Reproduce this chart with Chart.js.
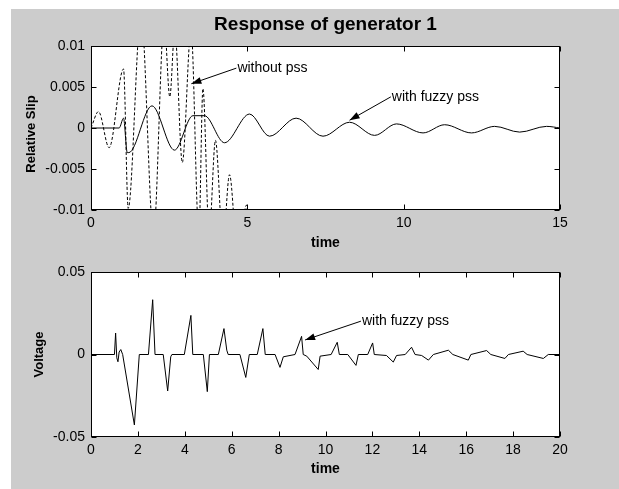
<!DOCTYPE html>
<html>
<head>
<meta charset="utf-8">
<title>Response of generator 1</title>
<script src="https://cdn.jsdelivr.net/npm/chart.js@4.4.1/dist/chart.umd.min.js"></script>
<style>
    body { margin: 0; background: #fff; }
    #figure { position: absolute; left: 11px; top: 9px; width: 608px; height: 480px; background: #cccccc; }
    canvas { position: absolute; left: 0; }
    #slipChart { top: 0; }
    #voltChart { top: 245px; }
</style>
</head>
<body>
<div id="figure"></div>
<canvas id="slipChart" width="619" height="262"></canvas>
<canvas id="voltChart" width="619" height="244"></canvas>
<script>
// relative slip, with fuzzy pss
const slipTime = [0, 0.9, 1.04, 1.16, 1.21, 1.95, 2.67, 3.26, 3.63, 4.27, 5.07, 5.71, 6.56, 7.42,
    8.27, 9.07, 9.77, 10.62, 11.31, 12.17, 12.91, 13.71, 14.57, 15];
const slipFuzzy = [0, 0, 0.0012, -0.0030, -0.0030, 0.0027, -0.0027, 0.0015, 0.0015, -0.0018, 0.0017,
    -0.0010, 0.0012, -0.0010, 0.0007, -0.0009, 0.0005, -0.0006, 0.0004, -0.0006, 0.0002, -0.0005, 0.0002, 0];

// relative slip, without pss (runs off the axes)
const noPssTime = [0, 0.24, 0.58, 1.04, 1.19, 1.60, 2.00, 2.34, 2.52, 2.68, 2.92, 3.20, 3.45, 3.58,
    3.78, 3.98, 4.22, 4.43, 4.70, 4.97, 5.15];
const slipNoPss = [0, 0.0020, -0.0024, 0.0072, -0.0098, 0.014, -0.013, 0.013, 0.0038, 0.012, -0.0042,
    0.012, -0.013, 0.0048, -0.013, -0.0015, -0.014, -0.0057, -0.016, -0.0094, -0.02];

// voltage, with fuzzy pss
const voltTime = [0, 1.0, 1.05, 1.1, 1.15, 1.2, 1.27, 1.35, 1.85, 2.06, 2.45, 2.63, 2.73, 3.08, 3.27,
    3.4, 3.45, 3.98, 4.26, 4.34, 4.79, 4.96, 5.05, 5.43, 5.67, 5.79, 5.85, 6.35, 6.6, 6.75, 7.09, 7.33,
    7.43, 7.85, 8.06, 8.2, 8.7, 8.98, 9.05, 9.2, 9.69, 9.77, 10.24, 10.5, 10.59, 10.95, 11.3, 11.4, 11.8,
    12.01, 12.08, 12.6, 12.89, 13.03, 13.4, 13.67, 13.82, 14.1, 14.39, 14.6, 15.24, 15.43, 16.09, 16.2,
    16.87, 17.05, 17.65, 17.8, 18.43, 18.6, 19.29, 19.5, 20];
const voltFuzzy = [0, 0, 0.013, -0.002, -0.0044, 0.0015, 0.003, 0, -0.0427, 0, 0, 0.0332, 0, 0, -0.0221,
    -0.0014, 0, 0, 0.0237, 0, 0, -0.0225, 0, 0, 0.0157, 0.0026, 0, 0, -0.0139, 0, 0, 0.0157,
    0, 0, -0.0078, -0.0014, 0, 0.011, 0, -0.001, -0.0091, -0.001, 0, 0.0074, 0, 0, -0.0066, 0, 0,
    0.007, 0, -0.0006, -0.0046, -0.0006, 0, 0.0044, 0, -0.0006, -0.0034, 0, 0.0026, 0, -0.0034, 0,
    0.0024, 0, -0.0024, 0, 0.002, 0, -0.0024, 0, 0];

// tick labels
const slipXTicks = [0, 5, 10, 15];
const slipYTicks = [-0.01, -0.005, 0, 0.005, 0.01];
const voltXTicks = [0, 2, 4, 6, 8, 10, 12, 14, 16, 18, 20];
const voltYTicks = [-0.05, 0, 0.05];

const FONT = "'Liberation Sans', Arial, sans-serif";

function toPoints(xs, ys) {
    return xs.map((x, i) => ({ x: x, y: ys[i] }));
}

// white axes box, inward ticks on all four sides, titles and arrow notes
const matlabAxes = {
    id: 'matlabAxes',
    beforeDatasetsDraw(chart) {
        const { ctx, chartArea: a } = chart;
        ctx.save();
        ctx.fillStyle = '#fff';
        ctx.fillRect(a.left, a.top, a.right - a.left, a.bottom - a.top);
        ctx.restore();
    },
    afterDraw(chart, args, opts) {
        const { ctx, chartArea: a, scales } = chart;
        const L = Math.round(a.left) + 0.5, R = Math.round(a.right) - 0.5;
        const T = Math.round(a.top) + 0.5, B = Math.round(a.bottom) - 0.5;
        ctx.save();
        ctx.strokeStyle = '#000';
        ctx.lineWidth = 1;
        ctx.strokeRect(L, T, R - L, B - T);

        ctx.beginPath();
        scales.x.ticks.forEach(t => {
            const px = Math.round(scales.x.getPixelForValue(t.value)) + 0.5;
            ctx.moveTo(px, B); ctx.lineTo(px, B - 5);
            ctx.moveTo(px, T); ctx.lineTo(px, T + 5);
        });
        scales.y.ticks.forEach(t => {
            const py = Math.round(scales.y.getPixelForValue(t.value)) + 0.5;
            ctx.moveTo(L, py); ctx.lineTo(L + 5, py);
            ctx.moveTo(R, py); ctx.lineTo(R - 5, py);
        });
        ctx.stroke();

        // arrow notes
        ctx.font = '14px ' + FONT;
        ctx.textAlign = 'left';
        ctx.textBaseline = 'middle';
        ctx.fillStyle = '#000';
        (opts.notes || []).forEach(n => {
            const x0 = scales.x.getPixelForValue(n.from[0]), y0 = scales.y.getPixelForValue(n.from[1]);
            const x1 = scales.x.getPixelForValue(n.to[0]), y1 = scales.y.getPixelForValue(n.to[1]);
            const ang = Math.atan2(y1 - y0, x1 - x0);
            ctx.beginPath();
            ctx.moveTo(x0, y0);
            ctx.lineTo(x1, y1);
            ctx.stroke();
            ctx.beginPath();
            ctx.moveTo(x1, y1);
            ctx.lineTo(x1 - 10 * Math.cos(ang) + 3.5 * Math.sin(ang), y1 - 10 * Math.sin(ang) - 3.5 * Math.cos(ang));
            ctx.lineTo(x1 - 10 * Math.cos(ang) - 3.5 * Math.sin(ang), y1 - 10 * Math.sin(ang) + 3.5 * Math.cos(ang));
            ctx.closePath();
            ctx.fill();
            ctx.fillText(n.text, x0 + 1, y0);
        });

        const cx = (a.left + a.right) / 2;
        if (opts.title) {
            ctx.font = 'bold 19px ' + FONT;
            ctx.textAlign = 'center';
            ctx.fillText(opts.title, cx, opts.titleY);
        }
        ctx.font = 'bold 14px ' + FONT;
        ctx.textAlign = 'center';
        ctx.fillText(opts.xTitle, cx, a.bottom + opts.xTitleOffset);
        ctx.translate(opts.yTitleX, (a.top + a.bottom) / 2 + opts.yTitleShift);
        ctx.rotate(-Math.PI / 2);
        ctx.font = 'bold 13px ' + FONT;
        ctx.fillText(opts.yTitle, 0, 0);
        ctx.restore();
    }
};

function axisOptions(ticks, fitKey, fitSize, pad) {
    return {
        type: 'linear',
        min: ticks[0],
        max: ticks[ticks.length - 1],
        afterBuildTicks: s => { s.ticks = ticks.map(v => ({ value: v })); },
        afterFit: s => { s[fitKey] = fitSize; },
        grid: { display: false, drawTicks: false },
        border: { display: false },
        ticks: {
            autoSkip: false,
            maxRotation: 0,
            padding: pad,
            color: '#000',
            font: { family: FONT, size: 14 },
            callback: v => String(v)
        }
    };
}

function baseOptions(padTop, xTicks, yTicks, xHeight, plug) {
    return {
        responsive: false,
        animation: false,
        devicePixelRatio: 1,
        layout: { padding: { top: padTop, right: 59, left: 0, bottom: 0 } },
        plugins: { legend: { display: false }, tooltip: { enabled: false }, matlabAxes: plug },
        scales: {
            x: Object.assign(axisOptions(xTicks, 'height', xHeight, 5), { position: 'bottom' }),
            y: Object.assign(axisOptions(yTicks, 'width', 91, 6), { position: 'left' })
        }
    };
}

const lineStyle = { borderColor: '#000', borderWidth: 1, pointRadius: 0, fill: false };

new Chart(document.getElementById('slipChart'), {
    type: 'line',
    data: {
        datasets: [
            Object.assign({ label: 'without pss', data: toPoints(noPssTime, slipNoPss),
                borderDash: [3, 2], cubicInterpolationMode: 'monotone' }, lineStyle),
            Object.assign({ label: 'with fuzzy pss', data: toPoints(slipTime, slipFuzzy),
                cubicInterpolationMode: 'monotone' }, lineStyle)
        ]
    },
    options: baseOptions(46, slipXTicks, slipYTicks, 52, {
        title: 'Response of generator 1',
        titleY: 25,
        xTitle: 'time',
        xTitleOffset: 33,
        yTitle: 'Relative Slip',
        yTitleX: 31,
        yTitleShift: 6,
        notes: [
            { text: 'without pss', from: [4.65, 0.0073], to: [3.21, 0.0054] },
            { text: 'with fuzzy pss', from: [9.59, 0.0038], to: [8.27, 0.00095] }
        ]
    }),
    plugins: [matlabAxes]
});

new Chart(document.getElementById('voltChart'), {
    type: 'line',
    data: {
        datasets: [
            Object.assign({ label: 'with fuzzy pss', data: toPoints(voltTime, voltFuzzy), tension: 0 }, lineStyle)
        ]
    },
    options: baseOptions(27, voltXTicks, voltYTicks, 52, {
        xTitle: 'time',
        xTitleOffset: 32,
        yTitle: 'Voltage',
        yTitleX: 39,
        yTitleShift: 0,
        notes: [
            { text: 'with fuzzy pss', from: [11.51, 0.0202], to: [9.13, 0.0088] }
        ]
    }),
    plugins: [matlabAxes]
});
</script>
</body>
</html>
